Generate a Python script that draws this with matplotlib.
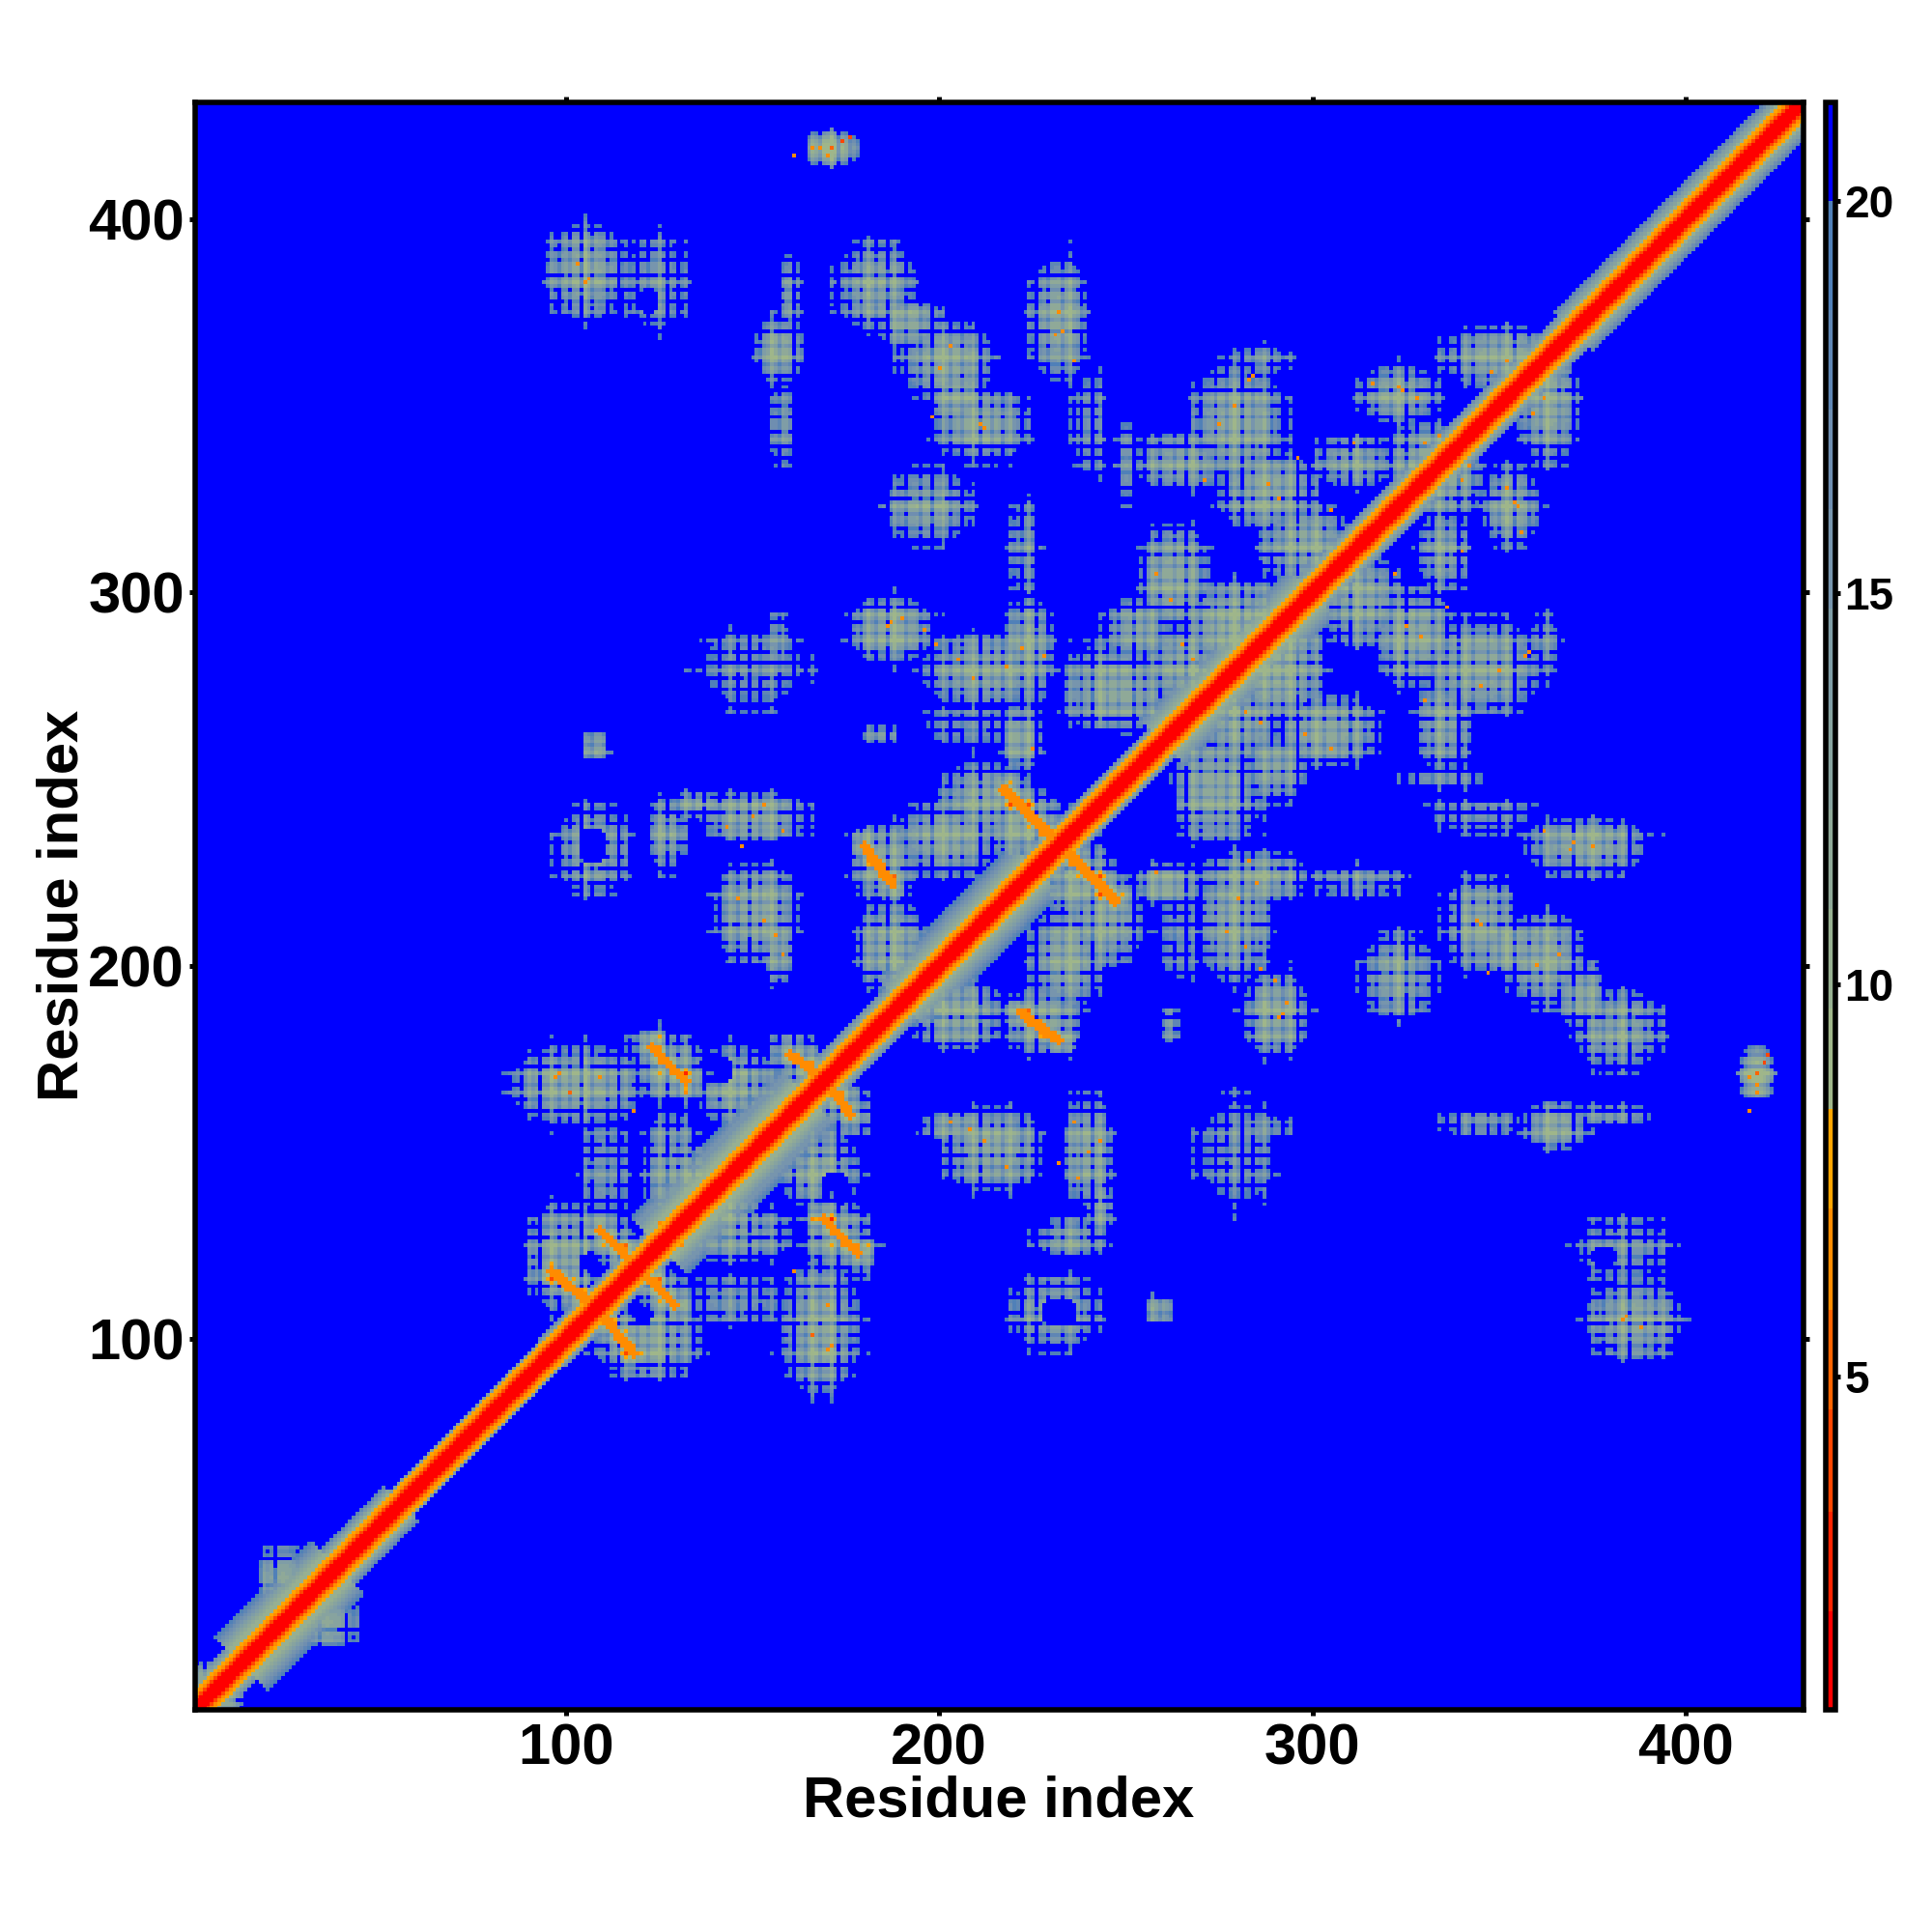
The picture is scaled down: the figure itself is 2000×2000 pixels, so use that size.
import numpy as np
import matplotlib
matplotlib.use('Agg')
import matplotlib.pyplot as plt
from matplotlib.colors import ListedColormap, BoundaryNorm

plt.rcParams['font.family'] = ['Liberation Sans', 'DejaVu Sans']
plt.rcParams['font.weight'] = 'bold'

# number of residues and axis ticks
n_res = 431
axis_ticks = [100, 200, 300, 400]

# colour scale (value bands, bottom to top)
band_edges = [0.75, 2.01, 3.28, 4.58, 5.85, 7.14, 8.41, 9.7, 10.97, 12.24, 13.5, 14.8,
              16.07, 17.34, 18.6, 20.0, 21.26]
band_colors = ['#ff0000', '#ff2400', '#ff4600', '#ff6400', '#ff8c00', '#ffa500',
               '#9fb68a', '#97b091', '#8fa998', '#87a39f', '#7f9da6', '#7795ad',
               '#6f8eb0', '#5f86b4', '#5080b8', '#0000ff']
cbar_ticks = [5, 10, 15, 20]

# diagonal band: first residue, last residue, half width
diag_start = [1, 13, 39, 56, 96, 125, 165, 190, 226, 260, 300, 335, 370, 400]
diag_end = [12, 38, 55, 95, 124, 164, 189, 225, 259, 299, 334, 369, 399, 431]
diag_width = [9, 15, 10, 7, 8, 16, 9, 14, 8, 13, 9, 9, 11, 11]

# contact patches above the diagonal: x, y, half width x, half width y, lowest distance
patches_top = [(171, 419, 8, 5, 8), (105, 386, 11, 13, 11), (124, 383, 8, 12, 15),
               (157, 365, 7, 9, 11), (158, 345, 3, 11, 14), (160, 380, 3, 11, 14),
               (183, 382, 11, 12, 12), (202, 362, 13, 11, 11), (211, 345, 13, 10, 11),
               (197, 323, 12, 10, 12), (232, 373, 8, 17, 11), (240, 345, 4, 14, 16),
               (192, 372, 9, 7, 11), (205, 352, 8, 9, 11)]
patches_upper = [(265, 335, 13, 8, 12), (280, 345, 13, 17, 11), (288, 327, 14, 11, 11),
                 (263, 304, 10, 15, 11), (311, 335, 11, 7, 12), (323, 353, 11, 8, 11),
                 (351, 363, 17, 9, 11), (335, 330, 11, 11, 11), (298, 313, 13, 11, 11),
                 (280, 291, 16, 13, 10), (250, 335, 3, 11, 15), (286, 362, 7, 4, 16)]
patches_middle = [(187, 290, 12, 9, 11), (212, 279, 17, 10, 11), (224, 284, 7, 15, 11),
                  (222, 261, 6, 9, 11), (184, 262, 5, 2.5, 13), (209, 264, 13, 5, 16),
                  (223, 312, 4, 12, 15), (247, 274, 15, 13, 11), (253, 290, 9, 9, 12),
                  (265, 280, 11, 11, 11), (150, 280, 13, 10, 16), (157, 285, 2.5, 10, 14)]
patches_lower = [(150, 240, 15, 7, 11), (127, 235, 5, 10, 12), (135, 243, 8, 4, 13),
                 (151, 214, 12, 14, 11), (157, 205, 4, 11, 12), (108, 259, 4, 4.5, 12),
                 (107, 231, 10, 12, 12), (185, 228, 10, 10, 11), (202, 234, 15, 10, 11),
                 (212, 244, 13, 11, 11), (222, 238, 11, 11, 11), (187, 205, 10, 13, 11),
                 (103, 168, 18, 11, 11), (145, 168, 11, 11, 11), (128, 145, 8, 16, 13),
                 (136, 142, 9, 11, 11), (100, 122, 11, 15, 11), (110, 145, 6, 13, 15),
                 (128, 172, 10, 9, 11), (24, 36, 7, 8, 12), (4, 9, 5, 5, 10)]

# empty pockets inside the patches: x, y, half width x, half width y
hollow_x = [108, 107, 244, 140, 122]
hollow_y = [119, 232, 259, 172, 378]
hollow_rx = [4.5, 4, 5, 5, 3]
hollow_ry = [4.5, 5, 5, 4, 4]

# close strands: x1, y1, x2, y2, halo width
strand_x1 = [96, 109, 123, 160, 217, 180]
strand_y1 = [118, 129, 178, 176, 247, 232]
strand_x2 = [108, 118, 132, 169, 247, 187]
strand_y2 = [108, 120, 169, 170, 218, 222]
strand_halo = [6, 6, 6, 6, 6, 5]

# single close contacts: x, y, distance
spot_x = [97, 98, 101, 103, 118, 109, 125, 150, 153, 171, 174, 176, 170, 168, 166, 161, 143, 147,
          186, 187, 190, 196, 199, 205, 209, 218, 222, 225, 228, 232, 231, 233, 236, 258, 262,
          265, 268, 271, 275, 279, 283, 284, 288, 291, 296, 305, 311, 316, 323, 324, 328, 334,
          340, 348, 352, 358, 362, 146, 153, 156, 158, 158, 200, 198, 105, 106, 203, 211, 212]
spot_y = [170, 171, 166, 388, 161, 170, 131, 240, 243, 419, 421, 422, 417, 419, 419, 417, 237,
          232, 291, 292, 293, 290, 286, 282, 277, 280, 285, 258, 283, 375, 369, 370, 362, 305,
          298, 286, 282, 330, 345, 350, 357, 358, 329, 325, 336, 322, 340, 356, 355, 354, 352,
          342, 330, 359, 362, 361, 366, 218, 212, 208, 203, 236, 360, 347, 383, 384, 366, 345, 344]
spot_val = [6, 6, 5, 7, 7, 7, 7, 6, 7, 5, 4, 4, 7, 7, 7, 7, 7, 7,
            6, 7, 7, 6, 7, 7, 7, 7, 6, 6, 7, 6, 7, 7, 7, 6, 7,
            7, 6, 7, 6, 7, 6, 7, 7, 7, 6, 7, 7, 6, 7, 7, 7, 6,
            7, 6, 7, 7, 7, 7, 6, 7, 6, 7, 6, 7, 6, 7, 7, 7, 6]

# residues whose rows sit farther out (gaps) and closer in (spikes on the patch edges)
gap_residues = [3, 22, 41, 93, 104, 114, 127, 137, 149, 161, 173, 186, 198, 211, 226, 241, 252,
                266, 281, 296, 310, 325, 339, 354, 370, 385, 402]
far_residues = [17, 29, 34, 47, 88, 98, 101, 107, 111, 119, 122, 130, 134, 141, 146, 152, 157,
                164, 168, 176, 179, 183, 191, 195, 203, 206, 214, 217, 222, 229, 233, 238, 245,
                248, 255, 259, 263, 270, 274, 277, 284, 289, 292, 299, 303, 307, 314, 317, 321,
                328, 332, 336, 343, 347, 350, 358, 361, 366, 373, 378, 381, 389, 392, 397, 408]
near_residues = [19, 44, 90, 96, 105, 116, 125, 132, 144, 155, 166, 171, 181, 188, 201, 209, 219,
                 224, 235, 243, 257, 268, 279, 287, 294, 301, 312, 323, 334, 341, 352, 363, 375,
                 383, 394]
gap_shift = 6.5
far_shift = 3.5
near_shift = -3.0

idx = np.arange(1, n_res + 1)
xx, yy = np.meshgrid(idx, idx)

# per residue shift for the contact patches
shift = np.zeros(n_res)
shift[np.array(far_residues) - 1] = far_shift
shift[np.array(gap_residues) - 1] = gap_shift
shift[np.array(near_residues) - 1] = near_shift
cell_shift = shift[xx - 1] + shift[yy - 1]

dist = np.full((n_res, n_res), 30.0)
for px, py, rx, ry, core in patches_top + patches_upper + patches_middle + patches_lower:
    r2 = ((xx - px) / rx) ** 2 + ((yy - py) / ry) ** 2
    v = core + (20.0 - core) * r2
    dist = np.minimum(dist, np.clip(v + cell_shift, 8.8, 30.0) + 30.0 * (r2 > 2.0))

for hx, hy, rx, ry in zip(hollow_x, hollow_y, hollow_rx, hollow_ry):
    dist[((xx - hx) / rx) ** 2 + ((yy - hy) / ry) ** 2 < 1] = 30.0

# strands
for x1, y1, x2, y2, halo in zip(strand_x1, strand_y1, strand_x2, strand_y2, strand_halo):
    dx, dy = x2 - x1, y2 - y1
    t = np.clip(((xx - x1) * dx + (yy - y1) * dy) / (dx * dx + dy * dy), 0, 1)
    k = np.hypot(xx - x1 - t * dx, yy - y1 - t * dy)
    v = np.where(k < 1.3, 7.0, 9.0 + 11.0 * (k - 1.3) / (halo - 1.3) + cell_shift)
    dist = np.minimum(dist, v)

dist[np.array(spot_y) - 1, np.array(spot_x) - 1] = spot_val
dist = np.minimum(dist, dist.T)

# diagonal band
gap = np.abs(xx - yy)
mid = (xx + yy) / 2.0
near_diag = np.array([1.5, 1.5, 1.5, 4.0, 6.5, 7.8])
for a, b, w in zip(diag_start, diag_end, diag_width):
    seg = (mid >= a) & (mid <= b + 0.5)
    v = 8.7 + 11.3 * (gap - 5.0) / (w - 5.0)
    v = np.where(gap <= 5, near_diag[np.minimum(gap, 5)], v)
    dist = np.where(seg, np.minimum(dist, v), dist)

cmap = ListedColormap(band_colors)
norm = BoundaryNorm(band_edges, cmap.N)
dist = np.clip(dist, 0.8, 21.2)

fig = plt.figure(figsize=(20, 20), dpi=100)
ax = fig.add_axes([201.5 / 2000, 1 - 1770 / 2000, 1665 / 2000, 1664.5 / 2000])
im = ax.imshow(dist, origin='lower', cmap=cmap, norm=norm, interpolation='nearest',
               extent=(0.5, n_res + 0.5, 0.5, n_res + 0.5), aspect='auto')
ax.set_xticks(axis_ticks)
ax.set_yticks(axis_ticks)
ax.tick_params(axis='both', which='major', top=True, right=True, length=4.5, width=3.6,
               labelsize=43)
ax.tick_params(axis='x', pad=5)
ax.tick_params(axis='y', pad=3)
for side in ax.spines.values():
    side.set_linewidth(4)
ax.set_xlabel('Residue index', fontsize=43, fontweight='bold')
ax.set_ylabel('Residue index', fontsize=43, fontweight='bold')
ax.xaxis.set_label_coords(0.5, -0.0408)
ax.yaxis.set_label_coords(-0.0655, 0.5)

cax = fig.add_axes([1889.5 / 2000, 1 - 1770 / 2000, 11 / 2000, 1664.5 / 2000])
cb = fig.colorbar(im, cax=cax, spacing='proportional', ticks=cbar_ticks, drawedges=False)
cb.minorticks_off()
cb.ax.tick_params(length=3.5, width=3.6, labelsize=33, pad=3)
cb.outline.set_linewidth(4)

plt.savefig('out.png', dpi=100)
